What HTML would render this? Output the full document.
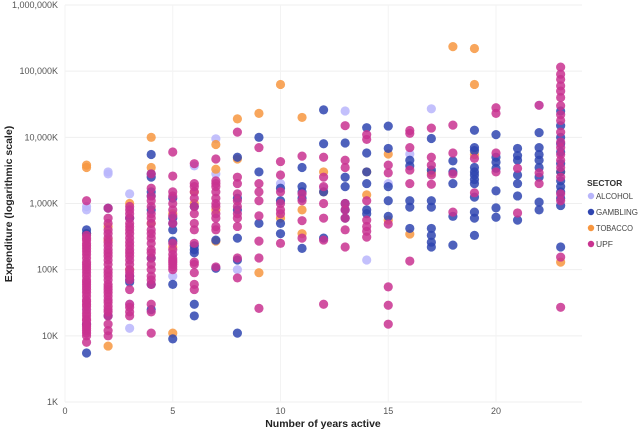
<!DOCTYPE html>
<html><head><meta charset="utf-8"><style>
html,body{margin:0;padding:0;background:#fff;}
svg{display:block;font-family:"Liberation Sans",sans-serif;}
</style></head><body>
<svg id="chart" width="640" height="432">
<g id="grid"></g>
<g id="yticks"></g>
<g id="xticks"></g>
<g id="points"></g>
<text x="12" y="204" transform="rotate(-90 12 204)" text-anchor="middle" font-size="10.5" font-weight="bold" fill="#222">Expenditure (logarithmic scale)</text>
<text x="323" y="427" text-anchor="middle" font-size="10.5" font-weight="bold" fill="#222">Number of years active</text>
<g>
<text x="587" y="186" font-size="8.5" font-weight="bold" fill="#333">SECTOR</text>
<g><circle cx="591" cy="196" r="3.2" fill="#b8b5fb"/><text x="596" y="199" font-size="8.5" fill="#444" textLength="37" lengthAdjust="spacingAndGlyphs">ALCOHOL</text></g>
<g><circle cx="591" cy="212" r="3.2" fill="#2f45b0"/><text x="596" y="215" font-size="8.5" fill="#444" textLength="42" lengthAdjust="spacingAndGlyphs">GAMBLING</text></g>
<g><circle cx="591" cy="228" r="3.2" fill="#f7963f"/><text x="596" y="231" font-size="8.5" fill="#444" textLength="37" lengthAdjust="spacingAndGlyphs">TOBACCO</text></g>
<g><circle cx="591" cy="244" r="3.2" fill="#c93390"/><text x="596" y="247" font-size="8.5" fill="#444">UPF</text></g>
</g>
</svg>
<script>
const yTickValues = [1, 10, 100, 1000, 10000, 100000, 1000000];
const yTickLabels = ["1K", "10K", "100K", "1,000K", "10,000K", "100,000K", "1,000,000K"];
const xTickValues = [0, 5, 10, 15, 20];
const alcoholPoints = [[1,900],[1,800],[1,25],[2,3000],[2,2800],[3,1400],[3,13],[3,30],[5,80],[6,3700],[7,9500],[7,2800],[8,100],[10,2000],[12,1700],[13,25000],[14,140],[15,2000],[16,5600],[17,27000],[22,30500]];
const gamblingPoints = [[1,5.5],[1,15],[1,400],[1,350],[2,20],[2,850],[3,70],[3,80],[3,65],[3,600],[4,5500],[4,2800],[4,2500],[4,1500],[4,1300],[4,60],[4,25],[4,800],[4,150],[5,60],[5,9],[5,500],[5,400],[5,270],[5,1200],[5,600],[6,30],[6,20],[6,200],[6,180],[6,230],[6,900],[7,280],[7,105],[8,5000],[8,1200],[8,800],[8,300],[8,140],[8,11],[9,10000],[9,3000],[9,500],[10,1700],[10,500],[10,350],[10,1100],[11,3500],[11,1800],[11,1500],[11,210],[11,1200],[12,26000],[12,8000],[12,300],[12,1500],[13,8200],[13,2500],[13,1800],[13,1000],[13,800],[13,600],[14,14000],[14,5800],[14,3000],[14,2000],[14,800],[14,700],[15,14800],[15,6800],[15,1800],[15,1100],[15,640],[16,4500],[16,3700],[16,1100],[16,880],[16,420],[17,9600],[17,3200],[17,1100],[17,880],[17,420],[17,330],[17,260],[17,220],[18,4400],[18,3000],[18,2000],[18,640],[18,235],[19,12800],[19,7000],[19,6300],[19,3500],[19,3000],[19,2700],[19,2300],[19,2000],[19,1250],[19,740],[19,600],[19,330],[20,11000],[20,5000],[20,4200],[20,3400],[20,1550],[20,860],[20,620],[21,6800],[21,5300],[21,4500],[21,2700],[21,2000],[21,1300],[21,560],[22,11800],[22,7000],[22,5500],[22,4500],[22,3500],[22,2500],[22,1050],[22,800],[23,25000],[23,15000],[23,10000],[23,8000],[23,6000],[23,4000],[23,3000],[23,2200],[23,1800],[23,1500],[23,1200],[23,930],[23,220]];
const tobaccoPoints = [[1,3800],[1,3500],[1,350],[2,7],[2,450],[2,280],[3,1000],[3,100],[4,10000],[4,3500],[4,500],[5,11],[5,220],[5,700],[6,1000],[6,1500],[7,7800],[7,3300],[7,800],[7,270],[8,19000],[8,4700],[9,23000],[9,90],[10,63000],[10,600],[11,20000],[11,800],[11,350],[12,3000],[12,1500],[14,3000],[14,1350],[15,5600],[15,560],[16,345],[17,2900],[18,235000],[19,220000],[19,63000],[19,5500],[23,130],[23,3000]];
const upfPoints = [[1,8],[1,10],[1,11],[1,12],[1,13],[1,14],[1,15],[1,17],[1,18],[1,20],[1,22],[1,25],[1,28],[1,30],[1,33],[1,35],[1,40],[1,45],[1,50],[1,55],[1,60],[1,65],[1,70],[1,80],[1,90],[1,100],[1,110],[1,120],[1,130],[1,150],[1,170],[1,190],[1,210],[1,230],[1,250],[1,280],[1,300],[1,330],[1,1100],
[2,10],[2,12],[2,15],[2,20],[2,23],[2,25],[2,28],[2,32],[2,35],[2,40],[2,45],[2,50],[2,55],[2,60],[2,70],[2,80],[2,90],[2,100],[2,120],[2,140],[2,160],[2,180],[2,200],[2,230],[2,260],[2,300],[2,350],[2,400],[2,500],[2,600],[2,850],
[3,20],[3,23],[3,27],[3,30],[3,50],[3,70],[3,80],[3,90],[3,100],[3,120],[3,140],[3,160],[3,180],[3,200],[3,230],[3,260],[3,300],[3,350],[3,400],[3,450],[3,500],[3,600],[3,700],[3,800],[3,900],
[4,11],[4,23],[4,30],[4,60],[4,70],[4,80],[4,100],[4,120],[4,150],[4,180],[4,200],[4,250],[4,300],[4,350],[4,400],[4,500],[4,600],[4,700],[4,900],[4,1100],[4,1300],[4,1700],[4,2800],
[5,6000],[5,2600],[5,1500],[5,1300],[5,1000],[5,800],[5,650],[5,500],[5,150],[5,130],[5,110],[5,100],[5,120],[5,140],[5,170],[5,200],[5,250],
[6,4000],[6,2000],[6,1800],[6,1500],[6,1200],[6,900],[6,700],[6,500],[6,400],[6,250],[6,130],[6,120],[6,90],[6,60],[6,50],
[7,4700],[7,2200],[7,2000],[7,1800],[7,1500],[7,1200],[7,1000],[7,900],[7,700],[7,600],[7,450],[7,400],[7,110],
[8,12000],[8,2500],[8,2000],[8,1400],[8,1100],[8,900],[8,700],[8,600],[8,450],[8,150],[8,75],
[9,7000],[9,2000],[9,1500],[9,1100],[9,650],[9,270],[9,150],[9,26],
[10,4300],[10,2700],[10,1500],[10,1000],[10,700],[10,250],[10,800],
[11,5200],[11,1400],[11,1100],[11,550],[11,300],
[12,5000],[12,2500],[12,1800],[12,1000],[12,600],[12,30],[12,280],
[13,15000],[13,4500],[13,3500],[13,1000],[13,800],[13,600],[13,400],[13,220],
[14,9300],[14,11000],[14,1100],[14,560],[14,450],[14,380],[14,310],
[15,3800],[15,2900],[15,490],[15,55],[15,29],[15,15],
[16,12700],[16,11500],[16,7000],[16,3200],[16,2000],[16,135],
[17,13800],[17,5000],[17,3800],[17,2700],[17,1950],
[18,15300],[18,5800],[18,2800],[18,740],
[19,4800],[19,1450],
[20,28000],[20,23000],[20,5800],[20,3000],
[21,3400],[21,720],
[22,30500],[22,2900],[22,2000],
[23,115000],[23,90000],[23,75000],[23,60000],[23,50000],[23,40000],[23,30000],[23,22000],[23,18000],[23,12000],[23,8500],[23,7000],[23,5500],[23,4500],[23,3500],[23,2500],[23,1400],[23,1100],[23,155],[23,27]];

const NS = "http://www.w3.org/2000/svg";
const X0 = 65, X1 = 582, Y0 = 402, Y1 = 5;
function xScale(v){ return X0 + v * 21.55; }
function yScale(v){ return Y0 - Math.log10(v) * (Y0 - Y1) / 6; }
function mk(tag, attrs, parent){ const e = document.createElementNS(NS, tag); for (const k in attrs) e.setAttribute(k, attrs[k]); parent.appendChild(e); return e; }
const grid = document.getElementById('grid'), yt = document.getElementById('yticks'), xt = document.getElementById('xticks'), pts = document.getElementById('points');
yTickValues.forEach((v, i) => {
  const y = yScale(v);
  const l = mk('line', {x1: X0, x2: X1, y1: y, y2: y, stroke: '#efefef', 'stroke-width': 1}, grid);
  
  
  const t = mk('text', {x: 58, y: y + 3, 'text-anchor': 'end', 'font-size': 9, fill: '#555'}, yt);
  t.textContent = yTickLabels[i];
  
  
});
xTickValues.forEach(v => {
  const x = xScale(v);
  const l = mk('line', {x1: x, x2: x, y1: Y1, y2: Y0, stroke: '#f3f3f3', 'stroke-width': 1}, grid);
  
  
  const t = mk('text', {x: x, y: 414, 'text-anchor': 'middle', 'font-size': 9, fill: '#555'}, xt);
  t.textContent = String(v);
  
  
});
const series = [[alcoholPoints, '#b8b5fb', 'alcohol'], [tobaccoPoints, '#f7963f', 'tobacco'], [gamblingPoints, '#2f45b0', 'gambling'], [upfPoints, '#c93390', 'upf']];
series.forEach(s => {
  s[0].forEach(p => {
    const c = mk('circle', {cx: xScale(p[0]), cy: yScale(p[1]), r: 4.6, fill: s[1], 'fill-opacity': 0.85}, pts);
    
    
  });
});
</script>
</body></html>
